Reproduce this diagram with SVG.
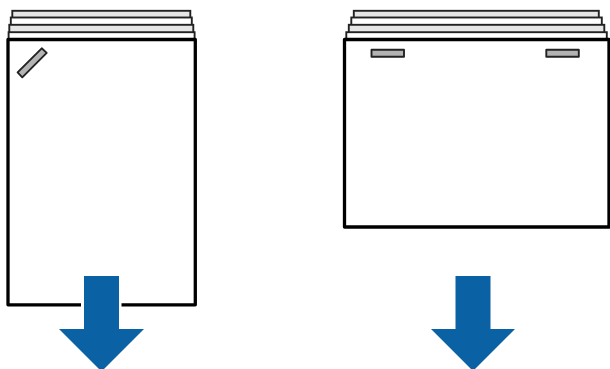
<svg xmlns="http://www.w3.org/2000/svg" width="610" height="369" viewBox="0 0 610 369">
<style>
.g{fill:#e6e6e6;stroke:#222;stroke-width:1.9}
.w{fill:#fff;stroke:#222;stroke-width:1.9}
.sheet{fill:#fff;stroke:#000;stroke-width:3.3;stroke-linejoin:round}
.tape{fill:#b3b3b3;stroke:#222;stroke-width:1.9;stroke-linejoin:round}
.halo{fill:#fff}
.arrow{fill:#0a62a4}
</style>
<g id="left-stack">
<rect class="g" x="12.300" y="10.800" width="178" height="10"/>
<rect class="w" x="10.800" y="17.500" width="181" height="10"/>
<rect class="g" x="9.300" y="24.800" width="184" height="10"/>
<rect class="w" x="8.600" y="32.200" width="186" height="10"/>
<rect class="sheet" x="8" y="39.500" width="187.300" height="265.300"/>
<polygon class="tape" points="41.700,48.300 46.700,52.900 22.300,77.300 17.600,72.400"/>
</g>
<g id="right-stack">
<rect class="g" x="353.800" y="10.800" width="245" height="10"/>
<rect class="w" x="351.300" y="17.500" width="250.500" height="10"/>
<rect class="g" x="348.800" y="24.800" width="255.500" height="10"/>
<rect class="w" x="346.300" y="32.200" width="260.500" height="10"/>
<rect class="sheet" x="344.500" y="39.500" width="264.500" height="187.500"/>
<rect class="tape" x="371.500" y="49.800" width="32.500" height="7"/>
<rect class="tape" x="546.300" y="49.800" width="32.500" height="7"/>
</g>
<g id="connectors">
<rect class="halo" x="81" y="300" width="40.500" height="8"/>
<polygon id="arrow-left" class="arrow" points="84,276 119,276 119,329 144,329 101.500,371.500 59,329 84,329"/>
<polygon id="arrow-right" class="arrow" points="455.500,276 490.500,276 490.500,329 515,329 473,371 431,329 455.500,329"/>
</g>
</svg>
